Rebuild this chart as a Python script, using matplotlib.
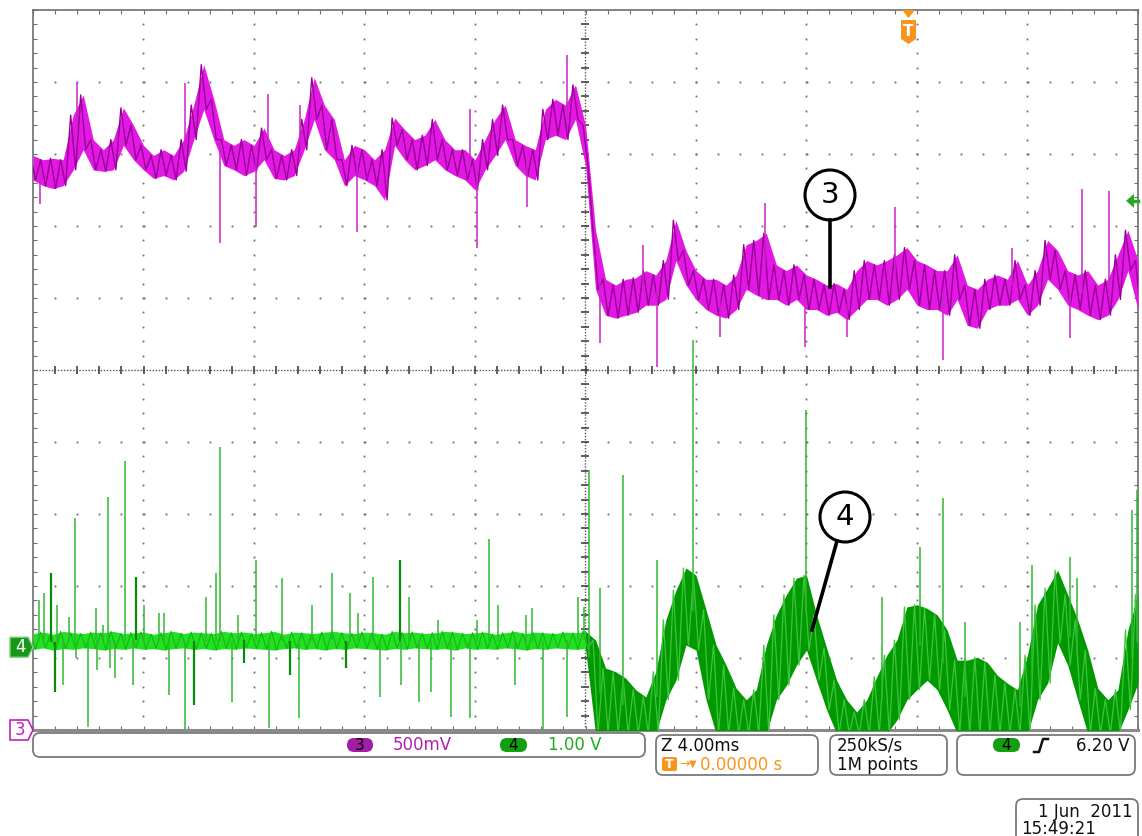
import numpy as np
import matplotlib
matplotlib.use("Agg")
import matplotlib.pyplot as plt
from matplotlib.patches import FancyBboxPatch, Polygon, Circle
from matplotlib.lines import Line2D
from matplotlib.transforms import Affine2D

# ---------------- acquisition settings ----------------
time_per_div_ms = 4.0
n_hdiv, n_vdiv = 10, 10
ch3_volts_per_div = 0.5
ch4_volts_per_div = 1.0
ch3_offset_div = 0.0
ch4_offset_div = 1.15
trigger_level_v = 6.20

# ---------------- channel 3 (peak-detect envelope, V) ----------------
ch3_hi = [3.99, 3.96, 3.97, 3.96, 4.27, 4.41, 4.10, 4.03, 4.10, 4.32,
          4.20, 4.06, 3.99, 4.03, 3.99, 4.10, 4.34, 4.62, 4.38, 4.10,
          4.06, 4.10, 4.06, 4.18, 4.03, 3.99, 4.03, 4.24, 4.53, 4.34,
          4.24, 3.96, 4.06, 4.03, 3.96, 4.03, 4.25, 4.17, 4.10, 4.13,
          4.24, 4.10, 4.03, 4.03, 3.96, 4.10, 4.24, 4.34, 4.10, 4.06,
          4.03, 4.31, 4.38, 4.34, 4.48, 4.20, 3.47, 3.13, 3.09, 3.13,
          3.14, 3.19, 3.16, 3.26, 3.54, 3.33, 3.19, 3.13, 3.13, 3.09,
          3.16, 3.37, 3.40, 3.45, 3.23, 3.19, 3.23, 3.16, 3.13, 3.09,
          3.10, 3.06, 3.19, 3.26, 3.23, 3.26, 3.30, 3.35, 3.26, 3.23,
          3.19, 3.19, 3.30, 3.09, 3.06, 3.13, 3.16, 3.13, 3.26, 3.09,
          3.19, 3.40, 3.33, 3.19, 3.16, 3.19, 3.09, 3.13, 3.30, 3.47,
          3.26]
ch3_lo = [3.82, 3.78, 3.76, 3.78, 3.89, 4.03, 3.89, 3.88, 3.89, 4.06,
          3.96, 3.89, 3.83, 3.85, 3.82, 3.88, 4.10, 4.31, 4.10, 3.92,
          3.89, 3.85, 3.88, 3.96, 3.83, 3.82, 3.85, 4.03, 4.24, 4.03,
          3.96, 3.78, 3.85, 3.82, 3.78, 3.68, 4.06, 3.96, 3.89, 3.92,
          3.96, 3.89, 3.85, 3.82, 3.75, 3.89, 3.99, 4.10, 3.92, 3.85,
          3.82, 4.10, 4.13, 4.10, 4.24, 3.92, 3.06, 2.88, 2.86, 2.88,
          2.90, 2.95, 2.95, 2.99, 3.26, 3.09, 2.99, 2.92, 2.88, 2.86,
          2.92, 3.06, 3.02, 2.99, 2.99, 2.95, 2.99, 2.92, 2.92, 2.88,
          2.90, 2.85, 2.92, 2.99, 2.99, 2.95, 2.99, 3.06, 2.95, 2.92,
          2.92, 2.88, 2.99, 2.81, 2.79, 2.92, 2.95, 2.95, 2.99, 2.88,
          2.95, 3.13, 3.06, 2.95, 2.92, 2.88, 2.85, 2.88, 2.99, 3.19,
          2.92]
ch3_spike_t = [-19.75, -18.41, -14.50, -13.23, -11.93, -11.49, -10.33, -8.27,
               -4.18, -3.93, -2.12, -0.67, 0.53, 2.08, 2.59, 4.87, 6.50,
               7.95, 9.47, 11.20, 12.94, 15.44, 17.54, 17.97, 18.95]
ch3_spike_v = [3.65, 4.50, 4.49, 3.38, 3.49, 4.42, 4.34, 3.46,
               4.31, 3.35, 3.63, 4.69, 2.69, 3.37, 2.52, 2.73, 3.66,
               2.66, 2.73, 3.63, 2.57, 3.35, 2.72, 3.76, 3.74]

# ---------------- channel 4 (peak-detect envelope, V) ----------------
ch4_hi = [0.19, 0.21, 0.18, 0.22, 0.20, 0.19, 0.21, 0.20, 0.22, 0.19,
          0.20, 0.21, 0.18, 0.20, 0.22, 0.19, 0.21, 0.20, 0.19, 0.22,
          0.20, 0.21, 0.19, 0.20, 0.22, 0.18, 0.21, 0.20, 0.19, 0.21,
          0.22, 0.20, 0.19, 0.21, 0.20, 0.18, 0.22, 0.20, 0.21, 0.19,
          0.20, 0.22, 0.21, 0.19, 0.20, 0.21, 0.18, 0.20, 0.22, 0.19,
          0.21, 0.20, 0.19, 0.21, 0.20, 0.22,
          0.10, -0.29, -0.34, -0.43, -0.59, -0.69, -0.34, 0.38, 0.79, 1.10,
          1.00, 0.52, 0.03, -0.25, -0.57, -0.73, -0.59, 0.03, 0.45, 0.73,
          0.96, 1.00, 0.45, -0.01, -0.46, -0.73, -0.90, -0.73, -0.41, -0.11,
          0.10, 0.56, 0.59, 0.54, 0.45, 0.24, -0.18, -0.18, -0.14, -0.21,
          -0.39, -0.50, -0.59, -0.11, 0.59, 0.82, 1.07, 0.73, 0.38, -0.04,
          -0.57, -0.73, -0.59, 0.24, 0.73]
ch4_lo = [-0.03, -0.01, -0.04, -0.02, -0.03, -0.01, -0.02, -0.04, -0.02, -0.03,
          -0.01, -0.03, -0.02, -0.04, -0.02, -0.01, -0.03, -0.02, -0.04, -0.02,
          -0.03, -0.01, -0.02, -0.03, -0.04, -0.02, -0.01, -0.03, -0.02, -0.04,
          -0.02, -0.03, -0.01, -0.02, -0.03, -0.04, -0.02, -0.03, -0.01, -0.02,
          -0.03, -0.02, -0.04, -0.01, -0.03, -0.02, -0.03, -0.01, -0.02, -0.04,
          -0.02, -0.03, -0.01, -0.02, -0.03, -0.02,
          -1.2, -1.2, -1.2, -1.2, -1.2, -1.2, -1.2, -0.73, -0.46, 0.03,
          -0.04, -0.73, -1.2, -1.2, -1.2, -1.2, -1.2, -1.2, -0.73, -0.53,
          -0.25, -0.04, -0.46, -0.87, -1.2, -1.2, -1.2, -1.2, -1.2, -1.2,
          -1.01, -0.73, -0.59, -0.46, -0.59, -0.87, -1.2, -1.2, -1.2, -1.2,
          -1.2, -1.2, -1.2, -1.2, -0.73, -0.50, 0.06, -0.25, -0.73, -1.2,
          -1.2, -1.2, -1.2, -0.87, -0.50]
ch4_spike_t = [-19.78, -19.60, -19.13, -18.70, -18.48, -17.72, -17.47, -17.29,
               -16.67, -15.98, -15.44, -15.26, -13.74, -13.38, -13.23, -12.58,
               -11.93, -10.99, -9.90, -9.18, -8.53, -8.24, -7.69, -6.39, -5.34,
               -3.93, -3.49, -3.17, -2.15, -1.94, -0.27, -0.05,
               0.13, 0.52, 1.36, 2.59, 3.89, 7.98, 10.73, 12.11, 12.94, 13.74,
               15.73, 16.16, 17.54, 17.79, 19.78, 19.96,
               -18.91, -18.44, -18.01, -17.68, -17.21, -17.03, -16.38, -15.08,
               -14.50, -12.80, -11.46, -10.37, -7.44, -6.68, -6.03, -5.59,
               -4.87, -4.18, -2.55, -1.54, -0.67]
ch4_spike_v = [0.66, 0.75, 0.59, 0.42, 1.79, 0.54, 0.31, 2.09,
               2.59, 0.59, 0.48, 0.48, 0.70, 1.03, 2.78, 0.45,
               1.21, 0.96, 0.59, 1.03, 0.75, 0.48, 0.98, 0.70, 0.38,
               0.38, 1.50, 0.59, 0.45, 0.54, 0.70, 0.56,
               2.46, 0.82, 2.39, 1.21, 4.27, 3.29, 0.70, 1.39, 2.07, 0.35,
               0.35, 1.14, 1.25, 0.96, 1.91, 2.18,
               -0.53, -0.15, -1.11, -0.32, -0.29, -0.43, -0.53, -0.66,
               -1.15, -0.76, -1.12, -0.98, -0.69, -0.53, -0.76, -0.62,
               -0.97, -0.98, -0.53, -1.15, -0.97]
ch4_dark_spike_t = [-19.35, -19.20, -16.27, -14.17, -12.36, -10.70, -8.67, -6.72]
ch4_dark_spike_v = [1.03, -0.62, 0.98, -0.80, -0.22, -0.39, -0.29, 1.21]

# ---------------- figure / screen ----------------
W, H = 1142, 836
X0, X1, Y0, Y1 = 33, 1138, 10, 730
fig = plt.figure(figsize=(W / 100, H / 100), dpi=100)
fig.patch.set_facecolor("white")
ax = fig.add_axes([X0 / W, 1 - Y1 / H, (X1 - X0) / W, (Y1 - Y0) / H])
half = n_hdiv / 2 * time_per_div_ms
ax.set_xlim(-half, half)
ax.set_ylim(0, n_vdiv)
ax.set_facecolor("white")

# pixel transform for the screen furniture (origin top-left)
px = Affine2D().scale(1 / W, -1 / H).translate(0, 1) + fig.transFigure

frame_c = "#6e6e6e"
for s in ax.spines.values():
    s.set_color(frame_c)
    s.set_linewidth(1.2)
ax.spines["bottom"].set_linewidth(2.2)
ax.spines["bottom"].set_color("#8a8a8a")
minor_x = np.arange(-half, half + 1e-6, time_per_div_ms / 5)
minor_y = np.arange(0, n_vdiv + 1e-6, 0.2)
ax.set_xticks(minor_x)
ax.set_yticks(minor_y)
ax.set_xticklabels([])
ax.set_yticklabels([])
ax.tick_params(which="both", direction="in", length=3, width=0.8, color=frame_c,
               top=True, right=True)

# dotted graticule
for i in range(1, n_hdiv):
    x = -half + i * time_per_div_ms
    if i == n_hdiv // 2:
        continue
    ys = np.arange(0.2, n_vdiv, 0.2)
    ax.plot(np.full_like(ys, x), ys, ls="none", marker="s", ms=1.3,
            mfc="#6a6a6a", mec="none", zorder=1)
for j in range(1, n_vdiv):
    if j == n_vdiv // 2:
        continue
    xs = np.arange(-half + 0.8, half, 0.8)
    ax.plot(xs, np.full_like(xs, j), ls="none", marker="s", ms=1.3,
            mfc="#6a6a6a", mec="none", zorder=1)
# centre cross with tick marks
ax.axvline(0, color="#555555", lw=1.0, ls=(0, (1, 1.2)), zorder=1)
ax.axhline(n_vdiv / 2, color="#555555", lw=1.0, ls=(0, (1, 1.2)), zorder=1)
ys = np.arange(0.2, n_vdiv, 0.2)
ax.plot(np.zeros_like(ys), ys, ls="none", marker="_", ms=6, mew=1.2,
        color="#444444", zorder=1)
xs = np.arange(-half + 0.8, half, 0.8)
ax.plot(xs, np.full_like(xs, n_vdiv / 2), ls="none", marker="|", ms=6, mew=1.2,
        color="#444444", zorder=1)


def ch3_div(v):
    return np.asarray(v, float) / ch3_volts_per_div + ch3_offset_div


def ch4_div(v):
    return np.asarray(v, float) / ch4_volts_per_div + ch4_offset_div


def zigzag(t, hi, lo):
    """Peak-detect style trace: each column swings from its max to its min."""
    dt = t[1] - t[0]
    tz = np.empty(2 * len(t))
    vz = np.empty(2 * len(t))
    tz[0::2], tz[1::2] = t - dt / 4, t + dt / 4
    vz[0::2], vz[1::2] = hi, lo
    return tz, vz


# ---------------- channel 4 trace ----------------
t4 = np.linspace(-half, half, len(ch4_hi))
hi4, lo4 = ch4_div(ch4_hi), ch4_div(ch4_lo)
mid4 = (hi4 + lo4) / 2
left = t4 <= 1e-9
right = t4 >= -1e-9
ax.fill_between(t4[right], lo4[right], hi4[right], color="#009a00", lw=0, zorder=3)
tz, vz = zigzag(t4[right], hi4[right], lo4[right])
ax.plot(tz, vz, color="#3ec43e", lw=0.9, zorder=3)
ax.fill_between(t4[left], lo4[left], hi4[left], color="#22e022", lw=0, zorder=3)
tz, vz = zigzag(t4[left], hi4[left], lo4[left])
ax.plot(tz, vz, color="#12b812", lw=0.8, zorder=3)
base4 = np.interp(ch4_spike_t, t4, mid4)
ax.vlines(ch4_spike_t, base4, ch4_div(ch4_spike_v), color="#2fb82f", lw=1.1, zorder=3)
based = np.interp(ch4_dark_spike_t, t4, mid4)
ax.vlines(ch4_dark_spike_t, based, ch4_div(ch4_dark_spike_v), color="#0a8a0a",
          lw=1.6, zorder=3)

# ---------------- channel 3 trace ----------------
t3 = np.linspace(-half, half, len(ch3_hi))
hi3, lo3 = ch3_div(ch3_hi), ch3_div(ch3_lo)
mid3 = (hi3 + lo3) / 2
ax.fill_between(t3, lo3, hi3, color="#e418e4", lw=0, zorder=4)
tz, vz = zigzag(t3, hi3, lo3)
ax.plot(tz, vz, color="#960096", lw=1.0, zorder=4)
base3 = np.interp(ch3_spike_t, t3, mid3)
ax.vlines(ch3_spike_t, base3, ch3_div(ch3_spike_v), color="#cc22cc", lw=1.1, zorder=4)

# ---------------- on-screen markers ----------------
orange = "#f7941d"
fig.add_artist(Polygon([(902, 10), (915, 10), (908.5, 18)], closed=True,
                       transform=px, fc=orange, ec="none"))
fig.add_artist(Polygon([(901, 20), (916, 20), (916, 39), (908.5, 44), (901, 39)],
                       closed=True, transform=px, fc=orange, ec="none"))
fig.text(908.5, 31, "T", transform=px, color="white", fontsize=11,
         fontweight="bold", ha="center", va="center")

# trigger level arrow
trig_y = Y1 - (trigger_level_v / ch4_volts_per_div + ch4_offset_div) * (Y1 - Y0) / n_vdiv
fig.add_artist(Polygon([(1126, trig_y), (1134, trig_y - 7), (1134, trig_y + 7)],
                       closed=True, transform=px, fc="#22aa22", ec="none"))
fig.add_artist(Line2D([1133, 1138], [trig_y, trig_y], transform=px, color="#22aa22", lw=2.5))

# channel ground markers
g4 = Y1 - ch4_offset_div * (Y1 - Y0) / n_vdiv
fig.add_artist(Polygon([(10, g4 - 10), (28, g4 - 10), (33, g4), (28, g4 + 10), (10, g4 + 10)],
                       closed=True, transform=px, fc="#1a961a", ec="#7fd07f", lw=1))
fig.text(20, g4, "4", transform=px, color="white", fontsize=12, ha="center", va="center")
g3 = Y1 - ch3_offset_div * (Y1 - Y0) / n_vdiv
fig.add_artist(Polygon([(10, g3 - 10), (28, g3 - 10), (33, g3), (28, g3 + 10), (10, g3 + 10)],
                       closed=True, transform=px, fc="white", ec="#c020c0", lw=1.2))
fig.text(20, g3, "3", transform=px, color="#c020c0", fontsize=12, ha="center", va="center")

# callouts
for (cx, cy, lbl, (lx0, ly0, lx1, ly1)) in [(830, 195, "3", (830, 220, 830, 287)),
                                           (845, 517, "4", (837, 541, 812, 630))]:
    fig.add_artist(Line2D([lx0, lx1], [ly0, ly1], transform=px, color="black", lw=2.6))
    fig.add_artist(Circle((cx, cy), 25, transform=px, fc="white", ec="black", lw=2.2))
    fig.text(cx, cy, lbl, transform=px, color="black", fontsize=21,
             ha="center", va="center")

# ---------------- readout boxes ----------------
def box(x0, y0, x1, y1, r=7):
    fig.add_artist(FancyBboxPatch((x0, y0), x1 - x0, y1 - y0,
                                  boxstyle=f"round,pad=0,rounding_size={r}",
                                  transform=px, fc="white", ec="#7a7a7a", lw=1.3))


def pill(x0, x1, yc, color, label):
    fig.add_artist(FancyBboxPatch((x0, yc - 7), x1 - x0, 14,
                                  boxstyle="round,pad=0,rounding_size=7",
                                  transform=px, fc=color, ec="none"))
    fig.text((x0 + x1) / 2, yc, label, transform=px, color="black", fontsize=11,
             ha="center", va="center")


txt = dict(transform=px, fontsize=12, va="center")
box(33, 733, 645, 757)
pill(347, 373, 745, "#a21ea2", "3")
fig.text(393, 745, f"{int(ch3_volts_per_div * 1000)}mV", color="#b020b0", **txt)
pill(500, 527, 745, "#12a012", "4")
fig.text(548, 745, f"{ch4_volts_per_div:.2f} V", color="#1cae1c", **txt)

box(656, 735, 818, 775)
fig.text(661, 746, f"Z {time_per_div_ms:.2f}ms", color="#111111", **txt)
fig.add_artist(FancyBboxPatch((662, 757), 15, 14, boxstyle="round,pad=0,rounding_size=2",
                              transform=px, fc=orange, ec="none"))
fig.text(669.5, 764.5, "T", transform=px, color="white", fontsize=9, fontweight="bold",
         ha="center", va="center")
fig.text(679, 764, "\u2192", transform=px, color=orange, fontsize=9, va="center")
fig.text(689, 764, "\u25bc", transform=px, color=orange, fontsize=7, va="center")
fig.text(700, 765, "0.00000 s", color=orange, **txt)

box(830, 735, 947, 775)
fig.text(837, 746, "250kS/s", color="#111111", **txt)
fig.text(837, 765, "1M points", color="#111111", **txt)

box(957, 735, 1135, 775)
pill(993, 1020, 745, "#12a012", "4")
fig.add_artist(Line2D([1034, 1039, 1043, 1048], [752, 752, 739, 739], transform=px,
                      color="#111111", lw=1.8))
fig.text(1130, 746, f"{trigger_level_v:.2f} V", color="#111111", ha="right", **txt)

box(1016, 799, 1138, 845)
fig.text(1133, 812, "1 Jun  2011", color="#111111", ha="right", **txt)
fig.text(1021, 829, "15:49:21", color="#111111", **txt)

fig.savefig("out.png", dpi=100, facecolor="white")
